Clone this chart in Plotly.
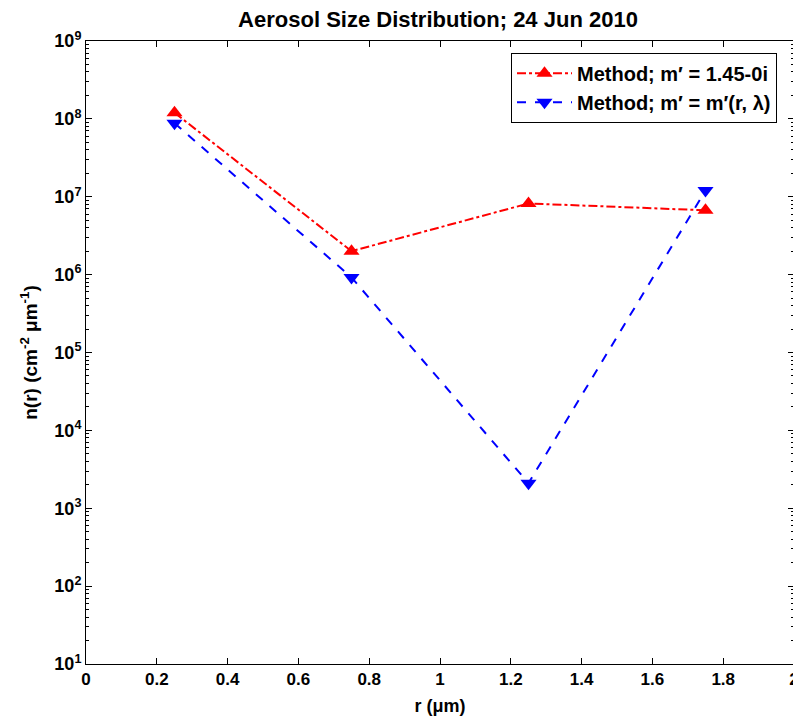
import plotly.graph_objects as go

r_um = [0.25, 0.75, 1.25, 1.75]
n_const = [1.2e8, 2.0e6, 8.2e6, 6.7e6]
n_var = [8.8e7, 9.2e5, 2.1e3, 1.2e7]
name_const = "Method; m′ = 1.45-0i"
name_var = "Method; m′ = m′(r, λ)"
x_ticks = [0, 0.2, 0.4, 0.6, 0.8, 1, 1.2, 1.4, 1.6, 1.8, 2]
x_ticklabels = ["0", "0.2", "0.4", "0.6", "0.8", "1", "1.2", "1.4", "1.6", "1.8", "2"]
y_exponents = [1, 2, 3, 4, 5, 6, 7, 8, 9]
y_minor = [k * 10 ** e for e in y_exponents[:-1] for k in range(2, 10)]

fnt = "Liberation Sans, Arial, sans-serif"

fig = go.Figure()
fig.add_trace(go.Scatter(x=r_um, y=n_const, name=name_const, mode="lines+markers",
                         line=dict(color="#ff0000", width=2, dash="dashdot"),
                         marker=dict(symbol="triangle-up", size=14, color="#ff0000")))
fig.add_trace(go.Scatter(x=r_um, y=n_var, name=name_var, mode="lines+markers",
                         line=dict(color="#0000ff", width=2, dash="dash"),
                         marker=dict(symbol="triangle-down", size=14, color="#0000ff")))

W, H = 801, 708
fig.update_layout(
    width=W, height=H,
    margin=dict(l=78, r=15, t=33, b=52, autoexpand=False),
    paper_bgcolor="white", plot_bgcolor="white",
    title=dict(text="<b>Aerosol Size Distribution; 24 Jun 2010</b>",
               x=430/W, xanchor="center", y=1 - 11/H, yanchor="middle",
               font=dict(family="Liberation Sans Narrow, " + fnt, size=22, color="black")),
    font=dict(family=fnt, color="black"),
    legend=dict(x=(511 - 86) / 708, xanchor="left", y=0.981, yanchor="top",
                bordercolor="black", borderwidth=1, bgcolor="white",
                font=dict(family=fnt, size=20, color="black", weight="bold"),
                tracegroupgap=0, itemwidth=55),
    showlegend=True,
)
fig.update_xaxes(range=[0, 2], tickvals=x_ticks, ticktext=x_ticklabels,
                 showgrid=False, zeroline=False, automargin=False, ticklabeloverflow="allow",
                 showline=True, linecolor="black", linewidth=1, mirror="allticks",
                 ticks="inside", ticklen=6, tickcolor="black",
                 tickfont=dict(family=fnt, size=17, color="black", weight="bold"),
                 title=dict(text="<b>r (μm)</b>", font=dict(family=fnt, size=18, color="black"), standoff=12))
fig.update_yaxes(type="log", range=[1, 9],
                 tickvals=[10 ** e for e in y_exponents],
                 ticktext=["10<sup>%d</sup>" % e for e in y_exponents],
                 showgrid=False, zeroline=False, automargin=False, ticklabeloverflow="allow",
                 showline=True, linecolor="black", linewidth=1, mirror="allticks",
                 ticks="inside", ticklen=6, tickcolor="black",
                 minor=dict(tickmode="array", tickvals=y_minor, ticks="inside", ticklen=3,
                            tickcolor="black", showgrid=False),
                 tickfont=dict(family=fnt, size=18, color="black", weight="bold"),
                 title=dict(text="<b>n(r) (cm<sup>-2</sup> μm<sup>-1</sup>)</b>",
                            font=dict(family=fnt, size=19, color="black"), standoff=11))

fig.write_html("out.html")
